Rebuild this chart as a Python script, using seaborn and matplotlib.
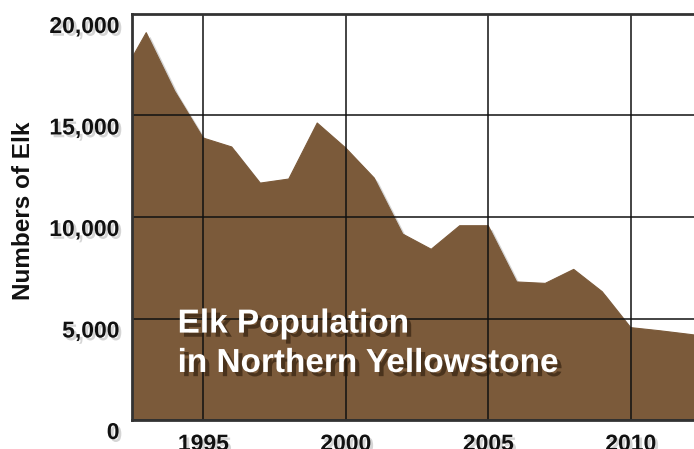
import numpy as np
import pandas as pd
import seaborn as sns
import matplotlib.pyplot as plt
import matplotlib.patheffects as pe
from matplotlib.transforms import ScaledTranslation

# elk counts (last one lies just past the right edge)
years = [1992, 1993, 1994, 1995, 1996, 1997, 1998, 1999, 2000, 2001, 2002,
         2003, 2004, 2005, 2006, 2007, 2008, 2009, 2010, 2011, 2012, 2013]
elk = [16600, 19080, 16200, 13890, 13450, 11670, 11870, 14630, 13400, 11920, 9160,
       8410, 9570, 9570, 6800, 6730, 7420, 6320, 4550, 4400, 4230, 4050]
xticks = [1995, 2000, 2005, 2010]
yticks = [0, 5000, 10000, 15000, 20000]
ytick_labels = ['0', '5,000', '10,000', '15,000', '20,000']
title_text = 'Elk Population\nin Northern Yellowstone'

df = pd.DataFrame({'year': years, 'elk': elk})

sns.set_theme(style='white')
plt.rcParams['font.family'] = ['Liberation Sans', 'DejaVu Sans']

brown = '#7b5a3a'
fig = plt.figure(figsize=(6.94, 4.49), dpi=100)
ax = fig.add_axes([132 / 694, 1 - 420 / 449, 1 - 132 / 694, (420 - 14) / 449])

shadow = [pe.SimplePatchShadow(offset=(3, -3), shadow_rgbFace='#777777', alpha=0.3), pe.Normal()]
area = ax.fill_between(df['year'], df['elk'], 0, color=brown, lw=0, zorder=1)
area.set_path_effects(shadow)
sns.lineplot(data=df, x='year', y='elk', ax=ax, color=brown, lw=0.8, zorder=1.1)

ax.set_xlim(1992.5, 2012.22)
ax.set_ylim(0, 20000)
ax.set_xticks(xticks)
ax.set_xticklabels([str(t) for t in xticks])
ax.set_yticks(yticks)
ax.set_yticklabels(ytick_labels)

ax.grid(True, color='#111111', lw=1.1)
ax.set_axisbelow(False)
for s in ['left', 'bottom', 'top']:
    ax.spines[s].set_color('#333333')
    ax.spines[s].set_linewidth(2)
    ax.spines[s].set_zorder(3)
ax.spines['right'].set_visible(False)

txt_shadow = [pe.SimplePatchShadow(offset=(2, -2), shadow_rgbFace='#888888', alpha=0.35), pe.Normal()]
ax.tick_params(axis='both', length=0, labelsize=16.5, colors='#111111')
ax.tick_params(axis='y', pad=9)
ax.tick_params(axis='x', pad=9)
offset = ScaledTranslation(0, -0.1, fig.dpi_scale_trans)
for lab in ax.get_yticklabels():
    lab.set_fontweight('bold')
    lab.set_transform(lab.get_transform() + offset)
    lab.set_path_effects(txt_shadow)
for lab in ax.get_xticklabels():
    lab.set_fontweight('bold')
    lab.set_path_effects(txt_shadow)

ax.set_xlabel('')
ax.set_ylabel('Numbers of Elk', fontsize=17.5, fontweight='bold', color='#111111')
ax.yaxis.set_label_coords(-0.172, 0.515)

ax.text(1994.1, 2365, title_text, color='white', fontsize=24, fontweight='bold',
        va='baseline', ha='left', linespacing=1.35, zorder=5,
        path_effects=[pe.SimplePatchShadow(offset=(3, -3), shadow_rgbFace='#2a1a0a', alpha=0.6), pe.Normal()])

fig.savefig('out.png', dpi=100)
